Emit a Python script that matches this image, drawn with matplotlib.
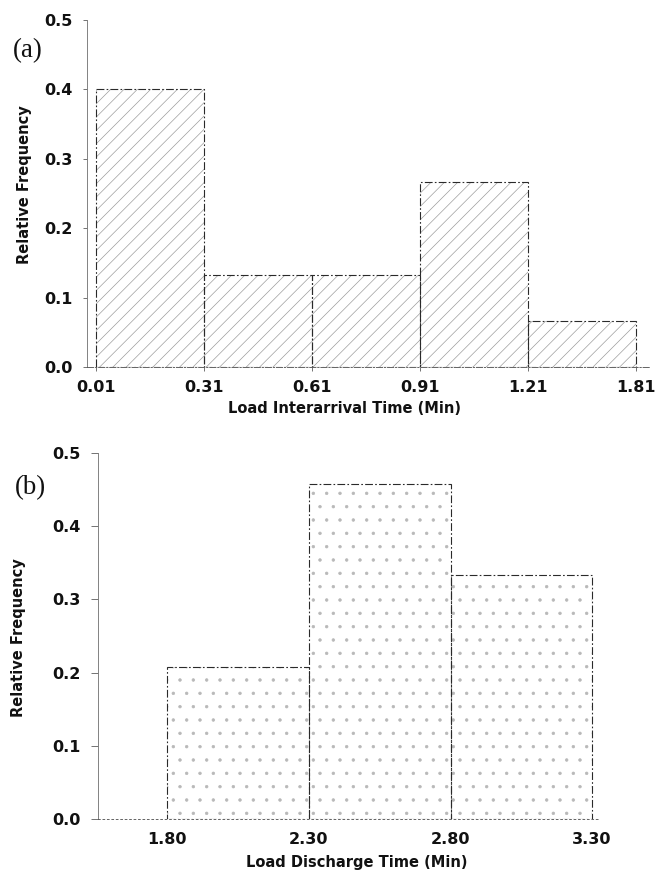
import numpy as np
import matplotlib
matplotlib.use("Agg")
import matplotlib.pyplot as plt

# ---------------- data ----------------
# (a) Load interarrival time histogram (equal-width class display)
a_edges_labels = ["0.01", "0.31", "0.61", "0.91", "1.21", "1.81"]
a_freq = [0.400, 0.133, 0.133, 0.267, 0.067]

# (b) Load discharge time histogram
b_edges = [1.80, 2.30, 2.80, 3.30]
b_edge_labels = ["1.80", "2.30", "2.80", "3.30"]
b_freq = [0.208, 0.458, 0.333]

y_ticks = [0.0, 0.1, 0.2, 0.3, 0.4, 0.5]
y_tick_labels = ["0.0", "0.1", "0.2", "0.3", "0.4", "0.5"]

# ---------------- style ----------------
DPI = 80
W, H = 658, 872
PT = 72.0 / DPI  # points per pixel

plt.rcParams["font.family"] = ["DejaVu Sans"]
plt.rcParams["hatch.linewidth"] = 0.6

fig = plt.figure(figsize=(W / DPI, H / DPI), dpi=DPI)
fig.patch.set_facecolor("white")

tick_fs = 16 * PT
label_fs = 14.6 * PT
panel_fs = 27 * PT
edge_col = "#2a2a2a"
hatch_col = "#9a9a9a"
dashdot = (0, (7, 2, 1.5, 2))


def style_axes(ax):
    for s in ("top", "right"):
        ax.spines[s].set_visible(False)
    ax.spines["left"].set_color("#777777")
    ax.spines["left"].set_linewidth(0.8)
    ax.spines["left"].set_linestyle((0, (2, 1)))
    ax.spines["bottom"].set_color("#555555")
    ax.spines["bottom"].set_linewidth(0.8)
    ax.spines["bottom"].set_linestyle(dashdot)
    ax.tick_params(axis="both", direction="out", length=4, width=0.8,
                   color="#666666", labelsize=tick_fs, labelcolor="#111111")
    ax.set_ylim(0, 0.5)
    ax.set_yticks(y_ticks)
    ax.set_yticklabels(y_tick_labels, fontweight="bold")


# ---------------- panel (a) ----------------
axa = fig.add_axes([87 / W, 1 - 367 / H, 563 / W, 347 / H])
xa = np.arange(len(a_freq))
axa.bar(xa, a_freq, width=1.0, align="edge", facecolor="none",
        edgecolor=hatch_col, hatch="//", linewidth=0)
axa.bar(xa, a_freq, width=1.0, align="edge", fill=False,
        edgecolor=edge_col, linewidth=1.0, linestyle=dashdot)
axa.set_xlim(-0.084, 5.13)
axa.set_xticks(np.arange(len(a_edges_labels)))
axa.set_xticklabels(a_edges_labels, fontweight="bold")
style_axes(axa)
axa.tick_params(axis="x", pad=8)
axa.tick_params(axis="y", pad=9)

# ---------------- panel (b) ----------------
axb = fig.add_axes([98 / W, 1 - 819 / H, 502 / W, 366 / H])
axb.bar(b_edges[:-1], b_freq, width=np.diff(b_edges), align="edge",
        facecolor="none", edgecolor="#b8b8b8", hatch=".", linewidth=0)
axb.bar(b_edges[:-1], b_freq, width=np.diff(b_edges), align="edge",
        fill=False, edgecolor=edge_col, linewidth=1.0, linestyle=dashdot)
axb.set_xlim(1.555, 3.328)
axb.set_xticks(b_edges)
axb.set_xticklabels(b_edge_labels, fontweight="bold")
style_axes(axb)
axb.spines["left"].set_linestyle("-")
axb.spines["bottom"].set_linestyle((0, (2, 3)))
axb.tick_params(axis="x", length=0, pad=12)
axb.tick_params(axis="y", length=6, pad=10)

# ---------------- labels ----------------
fig.text(25 / W, 1 - 185 / H, "Relative Frequency", rotation=90,
         ha="center", va="center", fontsize=label_fs, fontweight="bold",
         color="#111111")
fig.text(19 / W, 1 - 638 / H, "Relative Frequency", rotation=90,
         ha="center", va="center", fontsize=label_fs, fontweight="bold",
         color="#111111")
fig.text(345 / W, 1 - 408 / H, "Load Interarrival Time (Min)",
         ha="center", va="center", fontsize=label_fs, fontweight="bold",
         color="#111111")
fig.text(357 / W, 1 - 862 / H, "Load Discharge Time (Min)",
         ha="center", va="center", fontsize=label_fs, fontweight="bold",
         color="#111111")
fig.text(28 / W, 1 - 51 / H, "(a)", ha="center", va="center",
         fontsize=panel_fs, family="Liberation Serif", color="#111111")
fig.text(30 / W, 1 - 488 / H, "(b)", ha="center", va="center",
         fontsize=panel_fs, family="Liberation Serif", color="#111111")

fig.savefig("out.png", dpi=DPI, facecolor="white")
